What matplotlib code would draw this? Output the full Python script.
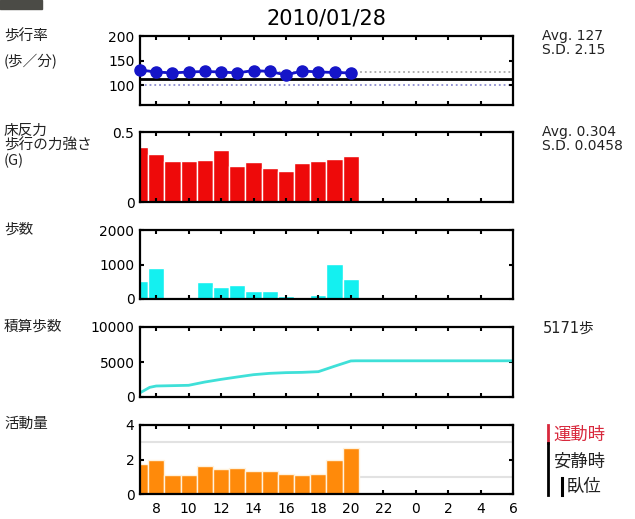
# purpose: daily walking summary chart (5 stacked panels)
#%% GET LIBRARIES

import matplotlib
matplotlib.use('Agg')
import matplotlib.pyplot as plt
from matplotlib.patches import Rectangle
from matplotlib.lines import Line2D


#%% DATA

TITLE = '2010/01/28'

hours = [7, 8, 9, 10, 11, 12, 13, 14, 15, 16, 17, 18, 19, 20]
walk_rate = [131, 127, 125, 127, 128, 127, 125, 130, 128, 121, 129, 127, 126, 125]
walk_rate_avg = 127
walk_rate_ref = 113
walk_rate_low = 100
force = [0.39, 0.345, 0.29, 0.29, 0.302, 0.368, 0.256, 0.288, 0.246, 0.222, 0.279, 0.296, 0.31, 0.329]
steps = [510, 890, 0, 50, 480, 345, 410, 240, 220, 75, 0, 115, 1010, 570]
cum_hours = [7, 7.6, 8, 9, 10, 11, 12, 13, 14, 15, 16, 17, 18, 19, 20, 20.3, 30]
cum_steps = [600, 1380, 1570, 1620, 1670, 2140, 2520, 2860, 3190, 3380, 3480, 3520, 3620, 4400, 5150, 5171, 5171]
activity = [1.73, 1.98, 1.12, 1.12, 1.63, 1.44, 1.5, 1.35, 1.31, 1.17, 1.08, 1.18, 1.95, 2.69]
activity_exercise = 3
activity_rest = 1

x_ticks = [8, 10, 12, 14, 16, 18, 20, 22, 24, 26, 28, 30]
x_tick_labels = ['8', '10', '12', '14', '16', '18', '20', '22', '0', '2', '4', '6']

panel_ylims = [(60, 200), (0, 0.5), (0, 2000), (0, 10000), (0, 4)]
panel_yticks = [[100, 150, 200], [0, 0.5], [0, 1000, 2000], [0, 5000, 10000], [0, 2, 4]]
panel_ytick_labels = [['100', '150', '200'], ['0', '0.5'], ['0', '1000', '2000'],
                      ['0', '5000', '10000'], ['0', '2', '4']]

left_labels = [['歩行率', '(歩／分)'], ['床反力', '歩行の力強さ', '(G)'], ['歩数'], ['積算歩数'], ['活動量']]
stats_rate = ['Avg. 127', 'S.D. 2.15']
stats_force = ['Avg. 0.304', 'S.D. 0.0458']
total_text = '5171歩'
legend_labels = ['運動時', '安静時', '臥位']


#%% FIGURE SETUP

W, H = 635, 519
fig = plt.figure(figsize=(W / 100, H / 100), dpi=100)
plt.rcParams['font.family'] = ['DejaVu Sans', 'Noto Sans CJK JP']
CJK = ['Noto Sans CJK JP', 'DejaVu Sans']


def px(x, y):
    """ pixel position (from top-left) to figure fraction """
    return x / W, 1 - y / H


# panel pixel boxes: (top, bottom)
ax_left, ax_right = 140, 513
boxes = [(36, 105), (132, 202), (230, 299), (327, 397), (425, 494)]

axes = []
for (top, bottom), ylim, yt, ytl in zip(boxes, panel_ylims, panel_yticks, panel_ytick_labels):
    ax = fig.add_axes([ax_left / W, 1 - bottom / H, (ax_right - ax_left) / W, (bottom - top) / H])
    ax.set_xlim(7, 30)
    ax.set_ylim(*ylim)
    ax.set_xticks(x_ticks[:-1])
    ax.set_yticks(yt)
    ax.set_yticklabels(ytl)
    ax.tick_params(direction='in', top=True, right=True, length=3, width=1.5,
                   labelsize=10, pad=4, colors='black')
    ax.tick_params(axis='x', labelbottom=False)
    for sp in ax.spines.values():
        sp.set_linewidth(1.6)
    axes.append(ax)


#%% PANEL 1: WALKING RATE

ax = axes[0]
ax.axhline(walk_rate_low, color='#8c8cd0', lw=1.3, ls=':', zorder=1)
ax.axhline(walk_rate_avg, color='#a8a8a8', lw=1.3, ls=':', zorder=1)
ax.axhline(walk_rate_ref, color='black', lw=2, zorder=2)
ax.plot(hours, walk_rate, color='#1515c8', lw=2, marker='o', markersize=8, zorder=3, clip_on=False)


#%% PANEL 2: FLOOR FORCE

axes[1].bar(hours, force, width=1, color='#ee0a0a', edgecolor='white', lw=1)


#%% PANEL 3: STEPS

axes[2].bar(hours, steps, width=1, color='#14f0f0', edgecolor='white', lw=1)


#%% PANEL 4: CUMULATIVE STEPS

axes[3].plot(cum_hours, cum_steps, color='#3fe0d8', lw=2)


#%% PANEL 5: ACTIVITY

ax = axes[4]
ax.axhline(activity_exercise, color='#e2e2e2', lw=1.5, zorder=0)
ax.axhline(activity_rest, color='#e2e2e2', lw=1.5, zorder=0)
ax.bar(hours, activity, width=1, color='#ff8a0a', edgecolor='#fff2dd', lw=1, zorder=2)
ax.set_xticks(x_ticks)
ax.set_xticklabels(x_tick_labels)
ax.tick_params(axis='x', labelbottom=True, pad=6)


#%% TEXTS

fig.text(*px(326, 18), TITLE, fontsize=15, ha='center', va='center')

label_rows = [[37, 62], [131, 146, 161], [230], [327], [424]]
for lines, ys in zip(left_labels, label_rows):
    for txt, y in zip(lines, ys):
        fig.text(*px(4, y), txt, fontsize=10.5, ha='left', va='center', family=CJK, color='#222222')

for txt, y in zip(stats_rate, [36, 50]):
    fig.text(*px(542, y), txt, fontsize=10, ha='left', va='center', color='#222222')
for txt, y in zip(stats_force, [132, 146]):
    fig.text(*px(542, y), txt, fontsize=10, ha='left', va='center', color='#222222')
fig.text(*px(543, 328), total_text, fontsize=10.5, ha='left', va='center', color='#222222')

# activity legend on the right
fig.text(*px(553, 435), legend_labels[0], fontsize=12.5, ha='left', va='center', family=CJK, color='#d8283c')
fig.text(*px(553, 462), legend_labels[1], fontsize=12.5, ha='left', va='center', family=CJK, color='#222222')
fig.text(*px(567, 487), legend_labels[2], fontsize=12.5, ha='left', va='center', family=CJK, color='#222222')
fig.add_artist(Line2D([548 / W, 548 / W], [1 - 425 / H, 1 - 443 / H], color='#d8283c', lw=2,
                      transform=fig.transFigure))
fig.add_artist(Line2D([548 / W, 548 / W], [1 - 443 / H, 1 - 495 / H], color='black', lw=2,
                      transform=fig.transFigure))
fig.add_artist(Line2D([562 / W, 562 / W], [1 - 478 / H, 1 - 495 / H], color='black', lw=2.2,
                      transform=fig.transFigure))

# dark tab at the top-left corner
fig.add_artist(Rectangle((0, 1 - 9 / H), 42 / W, 9 / H, color='#4b4b46', transform=fig.transFigure))


#%% SAVE

fig.savefig('out.png', dpi=100)
